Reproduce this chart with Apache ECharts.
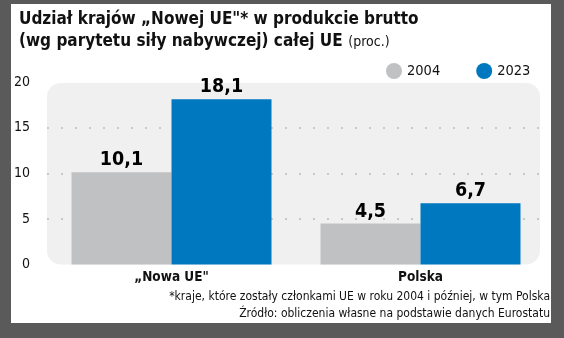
<!DOCTYPE html>
<html>
<head>
<meta charset="utf-8">
<script src="https://cdn.jsdelivr.net/npm/echarts@6/dist/echarts.min.js"></script>
<style>
html,body{margin:0;padding:0;background:#5a5a5a;}
#c{width:564px;height:338px;}
</style>
</head>
<body>
<div id="c"></div>
<script>
var categories = ['„Nowa UE"', 'Polska'];
var seriesNames = ['2004', '2023'];
var values2004 = [10.1, 4.5];
var values2023 = [18.1, 6.7];
var yTicks = [0, 5, 10, 15, 20];

var FONT = '"DejaVu Sans Condensed", "DejaVu Sans", sans-serif';
var chart = echarts.init(document.getElementById('c'));
function fmt(p){ return p.value.toFixed(1).replace('.', ','); }
var labelStyle = { show: true, position: 'top', distance: 2, formatter: fmt, fontFamily: FONT, fontWeight: 'bold', fontSize: 19.5, color: '#000' };
var option = {
  backgroundColor: '#5a5a5a',
  animation: false,
  textStyle: { fontFamily: FONT },
  title: {
    left: 14, top: 4,
    text: '{b|Udział krajów „Nowej UE"* w produkcie brutto}\n{b|(wg parytetu siły nabywczej) całej UE} {n|(proc.)}',
    textStyle: {
      rich: {
        b: { fontFamily: FONT, fontWeight: 'bold', fontSize: 17, color: '#111', lineHeight: 22 },
        n: { fontFamily: FONT, fontWeight: 'normal', fontSize: 14, color: '#111', lineHeight: 22 }
      }
    }
  },
  legend: {
    left: 381, top: 58,
    icon: 'circle', itemWidth: 16, itemHeight: 16, itemGap: 36,
    textStyle: { fontFamily: FONT, fontSize: 14.5, color: '#111' },
    data: seriesNames
  },
  graphic: [
    { type: 'rect', z: -2, shape: { x: 11, y: 4, width: 540, height: 319 }, style: { fill: '#ffffff' } },
    { type: 'rect', z: -1, shape: { x: 47, y: 83, width: 493, height: 181.5, r: 14 }, style: { fill: '#f0f0f0' } },
    { type: 'text', z: 5, style: { x: 550, y: 297, text: '*kraje, które zostały członkami UE w roku 2004 i później, w tym Polska', textAlign: 'right', textVerticalAlign: 'middle', font: '12px ' + FONT, fill: '#111' } },
    { type: 'text', z: 5, style: { x: 550, y: 314, text: 'Źródło: obliczenia własne na podstawie danych Eurostatu', textAlign: 'right', textVerticalAlign: 'middle', font: '12px ' + FONT, fill: '#111' } }
  ],
  grid: { left: 47, right: 19, top: 82, bottom: 73.5 },
  xAxis: {
    type: 'category', data: categories,
    axisLine: { show: false }, axisTick: { show: false },
    axisLabel: { margin: 6, fontFamily: FONT, fontWeight: 'bold', fontSize: 13.5, color: '#111' }
  },
  yAxis: {
    type: 'value', min: yTicks[0], max: yTicks[yTicks.length - 1], interval: 5,
    axisLine: { show: false }, axisTick: { show: false },
    axisLabel: { margin: 17, fontFamily: FONT, fontSize: 14, color: '#111' },
    splitLine: { show: true, showMinLine: false, showMaxLine: false, lineStyle: { color: '#c8c8c8', width: 2, type: [2, 12] } }
  },
  series: [
    { name: seriesNames[0], type: 'bar', data: values2004, barWidth: 100, barGap: 0,
      itemStyle: { color: '#c0c1c3' }, label: labelStyle },
    { name: seriesNames[1], type: 'bar', data: values2023, barWidth: 100, barGap: 0,
      itemStyle: { color: '#0078bf' }, label: labelStyle }
  ]
};
chart.setOption(option);
</script>
</body>
</html>
